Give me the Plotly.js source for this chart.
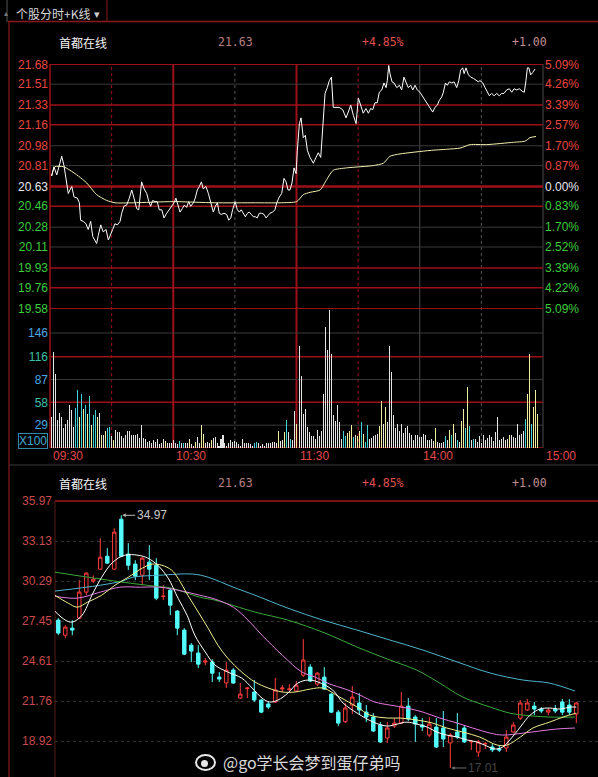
<!DOCTYPE html>
<html><head><meta charset="utf-8">
<script src="https://cdn.plot.ly/plotly-3.0.1.min.js"></script>
<style>html,body{margin:0;padding:0;background:#000;}#chart{width:598px;height:777px;}</style>
</head><body><div id="chart"></div>
<script>
// ===== data =====
const tabTitle = "个股分时+K线";
const stockName = "首都在线";
const lastPrice = "21.63";
const changePct = "+4.85%";
const changeAmt = "+1.00";

const priceTicks = [21.68,21.51,21.33,21.16,20.98,20.81,20.63,20.46,20.28,20.11,19.93,19.76,19.58];
const pctTicks = ["5.09%","4.26%","3.39%","2.57%","1.70%","0.87%","0.00%","0.83%","1.70%","2.52%","3.39%","4.22%","5.09%"];
const volTicks = [29,58,87,116,146];
const timeTicks = [0,60,120,180,240];
const timeLabels = ["09:30","10:30","11:30","14:00","15:00"];

const priceMin = [0.8,1.9,3.3,4.5,5.7,6.8,8.1,8.9,9.7,10.6,11.7,13.3,14.3,14.9,16.2,17.5,18.6,19.8,20.8,21.8,22.7,23.5,24.7,25.9,27.3,28.4,29.6,30.5,31.6,32.8,34.1,34.9,36.0,37.3,38.6,39.8,40.9,42.2,43.2,43.8,44.6,45.8,47.1,48.1,49.0,50.0,51.1,52.2,53.2,54.4,55.5,56.8,58.1,59.2,60.4,61.3,62.3,63.3,64.4,65.4,66.5,67.5,68.5,69.8,70.7,71.7,72.7,73.7,74.6,75.9,77.1,78.2,79.5,80.5,81.5,82.4,83.4,84.7,86.0,87.0,88.0,88.9,90.1,91.2,92.2,93.1,94.1,95.1,96.1,97.0,98.0,99.0,100.0,100.9,101.9,103.1,104.2,105.2,106.1,107.1,108.4,109.5,110.4,111.6,112.8,113.9,114.9,115.9,116.8,117.8,118.8,119.8,120.4,121.4,122.2,123.3,124.3,125.3,126.6,128.2,129.5,130.6,131.8,132.8,133.9,135.0,136.0,137.0,137.9,139.2,140.8,142.5,144.1,145.2,146.4,147.7,149.0,150.1,151.3,152.5,153.8,155.0,156.1,157.1,158.2,159.3,160.3,161.5,162.6,163.6,164.2,164.9,165.5,166.5,167.5,168.8,170.1,171.2,172.3,173.3,174.4,175.6,176.6,177.7,178.8,180.1,181.5,182.7,184.2,185.3,186.3,187.4,188.6,189.5,190.7,191.5,192.5,193.4,194.4,195.6,196.7,198.0,199.0,199.9,200.9,201.6,202.5,203.7,204.8,206.1,207.4,208.5,209.3,210.7,211.8,212.9,213.9,215.0,216.2,217.5,218.7,219.9,221.0,222.3,223.6,224.8,225.9,227.2,228.5,229.8,230.9,231.7,232.4,233.1,234.0,235.0,236.1];
const priceVal = [20.72,20.80,20.73,20.80,20.89,20.81,20.63,20.57,20.60,20.63,20.54,20.53,20.49,20.34,20.33,20.31,20.26,20.33,20.20,20.17,20.14,20.21,20.30,20.24,20.26,20.17,20.23,20.26,20.31,20.30,20.33,20.40,20.46,20.47,20.53,20.60,20.53,20.44,20.43,20.54,20.67,20.61,20.57,20.50,20.46,20.51,20.50,20.50,20.43,20.43,20.36,20.40,20.43,20.46,20.49,20.53,20.46,20.41,20.44,20.47,20.45,20.50,20.46,20.49,20.53,20.60,20.63,20.67,20.61,20.63,20.57,20.49,20.41,20.46,20.49,20.40,20.39,20.40,20.39,20.34,20.36,20.43,20.50,20.43,20.41,20.43,20.40,20.37,20.40,20.41,20.39,20.37,20.37,20.36,20.40,20.40,20.39,20.36,20.38,20.40,20.41,20.43,20.49,20.54,20.57,20.70,20.67,20.60,20.60,20.66,20.79,20.74,20.94,21.17,21.22,21.05,21.07,20.94,20.88,20.83,20.88,20.92,20.88,21.11,21.43,21.48,21.54,21.57,21.31,21.31,21.31,21.29,21.22,21.27,21.33,21.24,21.17,21.39,21.33,21.26,21.30,21.26,21.30,21.29,21.35,21.35,21.44,21.46,21.52,21.48,21.54,21.67,21.60,21.53,21.52,21.48,21.50,21.46,21.57,21.52,21.48,21.50,21.46,21.50,21.46,21.44,21.40,21.37,21.33,21.30,21.27,21.31,21.33,21.37,21.40,21.44,21.52,21.50,21.53,21.52,21.53,21.48,21.54,21.63,21.65,21.60,21.65,21.59,21.57,21.56,21.54,21.53,21.54,21.52,21.48,21.44,21.41,21.43,21.41,21.43,21.41,21.43,21.43,21.46,21.47,21.44,21.47,21.46,21.47,21.45,21.44,21.54,21.65,21.65,21.59,21.61,21.64];

const avgMin = [0.8,2.4,6.5,9.7,13.8,17.9,22.7,27.6,31.6,40.6,60,80,100,112,120.1,123.3,126.6,131.5,134.7,137.9,144.4,157.4,162.3,165.5,170.4,185.0,193.1,199.6,204.5,212.6,225.6,231.3,233.7,236.6];
const avgVal = [20.72,20.80,20.80,20.77,20.72,20.66,20.56,20.51,20.49,20.49,20.50,20.49,20.49,20.49,20.50,20.56,20.58,20.60,20.69,20.77,20.79,20.81,20.83,20.89,20.91,20.94,20.95,20.96,20.99,20.99,21.01,21.02,21.05,21.06];

// volume (x100), morning and afternoon sessions; direction: w=neutral, y=buy, c=sell
const volAM = [40,122,94,35,44,40,26,31,36,55,48,27,51,74,39,69,49,54,43,66,29,42,48,40,44,16,16,22,25,27,15,10,23,20,20,15,13,17,22,22,17,17,16,18,13,29,13,11,8,9,6,10,8,12,5,6,11,9,6,6,6,10,6,5,9,6,6,6,6,11,5,3,8,14,6,29,18,6,8,6,10,13,14,6,3,11,17,6,3,6,10,8,9,8,5,3,11,6,6,6,5,2,6,8,6,3,5,3,6,6,6,8,8,6,22,9,10,20,36,20,12,10,47,30];
const volAMDir = "wwwwwwwwwwww"+"ccycycycyccy"+"wywyccwy"+"wwwwwwwwwwwwwwwwwwwwwwwww"+"y"+"wwwwww"+"cwc"+"ww"+"y"+"ww"+"y"+"ww"+"yy"+"www"+"y"+"wwwwwwwwwwwwwwwwwwwww"+"cc"+"wwwwwwwwww"+"y"+"ww"+"ycwc"+"ww"+"y";
const volPM = [130,92,43,49,27,20,15,15,12,23,15,22,69,154,125,175,119,42,34,54,33,12,22,15,19,22,29,14,16,15,22,33,18,8,29,12,13,15,16,18,28,60,31,52,33,130,96,42,25,31,22,31,19,25,28,19,16,10,16,17,14,14,18,16,10,10,11,9,25,8,6,6,8,15,10,23,16,31,19,10,8,34,49,25,78,28,10,12,11,8,15,6,17,10,13,17,14,9,20,40,10,12,14,10,11,17,17,14,13,30,16,18,22,37,69,119,31,52,74,43];
const volPMDir = "wwwwwwwwwwwwwwwwwwwwww"+"ccyyycwyycycc"+"wwwww"+"yywyw"+"wwwwwwwwwwwwwwwwwwwwwww"+"y"+"wwww"+"cwycywcwyycycwc"+"wwwwwwwwwwwwwwwww"+"y"+"wwwwwww"+"cyycyyy";

// daily K-line
const klineTicks = [35.97,33.13,30.29,27.45,24.61,21.76,18.92];
const kOpen  = [27.52,26.45,26.95,27.66,29.51,30.29,31.14,32.06,31.14,34.69,32.21,31.50,30.71,31.64,31.42,29.19,29.65,28.16,26.81,25.74,25.18,24.54,24.54,23.47,23.05,23.97,21.98,22.65,22.41,21.84,21.56,21.70,22.62,22.59,22.48,23.61,24.18,22.97,23.47,22.26,20.98,20.30,21.48,21.63,20.98,20.63,20.06,19.14,19.99,20.20,21.41,20.63,20.06,19.35,19.92,19.85,18.79,19.57,19.85,18.86,18.14,18.72,18.50,18.36,18.43,19.57,20.56,21.13,21.41,21.20,20.98,21.20,21.70,21.48,20.84];
const kHigh  = [27.66,27.16,27.52,30.36,30.93,30.71,33.34,32.63,34.05,34.97,32.99,31.78,31.99,32.85,31.92,30.00,29.79,28.23,26.95,25.89,25.74,24.82,24.75,23.83,24.54,24.11,23.05,22.76,23.26,21.91,21.70,23.40,22.90,22.97,23.19,26.17,24.39,23.83,24.18,22.33,21.13,21.63,22.83,22.33,21.48,20.91,20.28,20.28,20.56,22.41,21.98,20.77,20.56,20.63,20.56,21.06,19.50,20.91,20.06,19.00,19.00,18.86,18.72,18.64,19.71,20.27,21.84,21.91,21.70,21.34,21.27,21.48,21.91,21.91,21.70];
const kLow   = [26.45,26.24,26.45,27.60,29.29,30.15,31.10,31.50,31.10,32.00,31.07,30.36,30.00,30.36,28.94,28.94,27.87,26.45,25.03,24.54,24.11,24.32,23.12,23.12,22.69,22.98,21.91,21.98,21.70,20.91,21.20,21.63,22.41,22.41,22.41,23.47,23.12,22.83,22.55,20.91,19.99,20.21,20.84,20.84,20.28,19.57,18.79,18.79,19.85,20.13,20.35,18.86,19.64,19.21,18.43,18.50,17.01,19.07,18.79,18.29,17.79,18.36,18.14,18.14,18.14,19.50,20.42,21.06,20.77,20.91,20.77,20.91,20.77,20.77,20.20];
const kClose = [26.60,27.02,26.81,29.51,30.86,30.43,31.99,31.57,33.77,32.06,31.42,30.64,31.92,31.14,29.08,29.22,28.58,26.95,25.10,25.32,24.39,24.61,23.75,23.33,23.97,23.05,22.26,22.69,21.84,20.98,21.34,22.55,22.69,22.62,22.90,24.68,23.19,23.75,22.62,20.98,20.20,21.27,22.05,21.13,20.63,19.64,18.86,19.85,20.20,21.41,20.49,20.13,19.92,20.13,18.50,19.07,19.35,19.21,18.86,18.89,18.86,18.75,18.29,18.29,19.21,20.06,21.63,21.63,21.20,21.06,21.13,21.06,20.98,20.98,21.63];
const highLabel = "34.97";
const lowLabel = "17.01";

// moving averages (x = candle index)
const ma5X = [0.5,2.0,3.0,4.4,5.8,7.2,8.8,10.5,12.4,13.8,15.2,16.7,18.1,19.4,20.5,22.0,23.4,25.2,27.2,28.7,30.1,31.2,32.4,33.8,35.2,36.7,38.1,40.2,41.7,43.7,46.0,48.0,49.4,50.8,52.2,53.7,55.1,56.5,58.0,59.4,60.8,62.2,63.4,64.5,65.5,67.0,68.4,69.8,71.2,72.7,74.1,75.0];
const ma5Y = [28.16,27.52,27.38,27.87,29.29,30.57,31.64,32.13,32.13,31.92,31.42,30.50,29.08,27.87,26.45,25.25,24.32,23.83,23.40,22.69,21.98,21.70,21.84,22.33,23.04,23.26,23.12,22.55,21.62,20.91,20.27,19.99,20.13,20.27,20.13,19.92,19.56,19.35,19.21,19.00,18.86,18.57,18.36,18.50,19.00,19.92,20.77,21.20,21.27,21.20,21.34,21.34];
const ma10X = [0.5,2.4,3.7,5.2,7.2,9.1,11.0,13.0,14.4,15.8,17.2,18.1,19.5,21.0,22.4,23.8,25.2,27.2,29.1,31.0,33.0,34.8,37.0,38.8,41.2,43.7,45.5,48.0,49.8,52.2,54.5,56.5,58.8,61.2,63.7,65.1,67.0,68.8,71.2,73.1,75.0];
const ma10Y = [29.29,28.73,28.44,28.80,29.29,30.00,30.57,31.21,31.50,31.42,31.07,30.50,29.29,28.09,26.95,25.74,24.82,23.83,23.12,22.69,22.41,22.41,22.62,22.69,22.05,21.34,20.77,20.56,20.56,20.42,20.20,19.85,19.56,19.21,18.64,18.64,19.21,19.85,20.27,20.63,20.91];
const ma20X = [0.5,3.7,7.0,9.8,12.7,15.5,18.7,21.2,23.4,26.0,28.1,30.1,33.0,35.8,37.7,39.8,42.0,44.1,46.2,48.4,50.8,53.1,55.5,58.0,60.2,62.7,64.5,67.4,69.8,72.2,74.8];
const ma20Y = [29.22,29.08,29.51,29.86,29.86,29.86,29.58,29.29,29.01,28.44,27.52,26.45,25.03,23.83,23.47,22.97,22.62,22.19,21.70,21.48,21.27,20.98,20.56,20.20,19.85,19.49,19.35,19.49,19.64,19.78,19.85];
const ma60X = [0.5,5.2,10.1,14.8,17.2,21.2,23.4,29.1,33.8,39.1,43.7,48.4,52.2,55.5,58.8,62.7,65.5,67.4,71.2,74.8];
const ma60Y = [30.93,30.57,30.22,29.93,29.79,29.15,28.94,28.09,27.52,26.60,25.60,24.68,23.97,23.04,22.05,21.34,20.91,20.77,20.63,20.63];
const ma120X = [0.5,7.0,10.1,11.7,15.5,20.2,22.4,26.0,29.1,33.8,38.8,43.7,48.4,53.1,58.0,62.7,67.4,71.2,74.8];
const ma120Y = [29.58,30.00,30.29,30.57,30.71,30.79,30.57,29.86,29.29,28.37,27.52,26.81,26.10,25.39,24.54,23.76,23.26,23.04,22.48];

const watermark = "@go学长会梦到蛋仔弟吗";

// ===== drawing =====
const W = 598, H = 777;
const px = v => v / W, py = v => 1 - v / H;
const F = "Liberation Sans, Arial, sans-serif";
const CJK = "Noto Sans CJK SC, sans-serif";
const RED = "#e8463f", GREEN = "#3ccb3c", FLAT = "#e8e8f0";
const GRIDRED = "#9c1018", GRIDGRAY = "#3a3a3a";

const priceTickText = priceTicks.map((v, i) => {
  const c = i < 6 ? RED : (i === 6 ? FLAT : GREEN);
  return '<span style="color:' + c + '">' + v.toFixed(2) + '</span>';
});
const pctTickText = pctTicks.map((t, i) => {
  const c = i < 6 ? RED : (i === 6 ? FLAT : GREEN);
  return '<span style="color:' + c + '">' + t + '</span>';
});
const volTickText = volTicks.map((v, i) => {
  const c = (i % 2 === 0) ? "#4aa6e0" : "#3cc0a8";
  return '<span style="color:' + c + '">' + v + '</span>';
});

const dirColor = {w: "#e4e4e4", y: "#f0ee9c", c: "#3fd3d8"};
const volX = [], volY = [], volC = [];
volAM.forEach((v, i) => { volX.push(0.8 + i * (119.3 / (volAM.length - 1))); volY.push(v); volC.push(dirColor[volAMDir[i]] || "#e4e4e4"); });
volPM.forEach((v, i) => { volX.push(121.4 + i * (115.7 / (volPM.length - 1))); volY.push(v); volC.push(dirColor[volPMDir[i]] || "#e4e4e4"); });

const kIdx = kOpen.map((_, i) => i + 1);

const traces = [
  {type: "scatter", mode: "lines", x: priceMin, y: priceVal, xaxis: "x", yaxis: "y2", line: {width: 0}, opacity: 0, hoverinfo: "skip", showlegend: false},
  {type: "scatter", mode: "lines", x: avgMin, y: avgVal, xaxis: "x", yaxis: "y", line: {color: "#f4efb0", width: 1, shape: "spline", smoothing: 0.6}, hoverinfo: "skip"},
  {type: "scatter", mode: "lines", x: priceMin, y: priceVal, xaxis: "x", yaxis: "y", line: {color: "#ffffff", width: 1}, hoverinfo: "skip"},
  {type: "bar", x: volX, y: volY, xaxis: "x2", yaxis: "y3", width: 0.5, marker: {color: volC, line: {width: 0}}, hoverinfo: "skip"},
  {type: "candlestick", x: kIdx, open: kOpen, high: kHigh, low: kLow, close: kClose, xaxis: "x3", yaxis: "y4",
   increasing: {line: {color: "#ff3c3c", width: 1}, fillcolor: "#000000"},
   decreasing: {line: {color: "#54fcfc", width: 1}, fillcolor: "#54fcfc"},
   whiskerwidth: 0, hoverinfo: "skip"},
  {type: "scatter", mode: "lines", x: ma120X, y: ma120Y, xaxis: "x3", yaxis: "y4", line: {color: "#4fb4cc", width: 1, shape: "spline"}, hoverinfo: "skip"},
  {type: "scatter", mode: "lines", x: ma60X, y: ma60Y, xaxis: "x3", yaxis: "y4", line: {color: "#3aa83a", width: 1, shape: "spline"}, hoverinfo: "skip"},
  {type: "scatter", mode: "lines", x: ma20X, y: ma20Y, xaxis: "x3", yaxis: "y4", line: {color: "#e07ae0", width: 1, shape: "spline"}, hoverinfo: "skip"},
  {type: "scatter", mode: "lines", x: ma10X, y: ma10Y, xaxis: "x3", yaxis: "y4", line: {color: "#f0f090", width: 1, shape: "spline"}, hoverinfo: "skip"},
  {type: "scatter", mode: "lines", x: ma5X, y: ma5Y, xaxis: "x3", yaxis: "y4", line: {color: "#ffffff", width: 1, shape: "spline"}, hoverinfo: "skip"}
];

const shapes = [];
const redPrice = [21.68, 21.33, 21.16, 20.63, 20.46, 19.93, 19.76, 19.58];
priceTicks.forEach(v => {
  const isRed = redPrice.indexOf(v) >= 0;
  shapes.push({type: "line", xref: "x", yref: "y", x0: 0, x1: 240, y0: v, y1: v, layer: "below",
    line: {color: isRed ? GRIDRED : GRIDGRAY, width: (v === 20.63) ? 2.5 : (isRed ? 1.5 : 1)}});
});
[0, 29, 58, 87, 116, 146].forEach(v => {
  const isRed = (v === 0 || v === 58 || v === 116);
  shapes.push({type: "line", xref: "x2", yref: "y3", x0: 0, x1: 240, y0: v, y1: v, layer: "below",
    line: {color: isRed ? GRIDRED : GRIDGRAY, width: isRed ? 1.5 : 1}});
});
const vLines = [[30, GRIDRED, "dot", 1], [60, GRIDRED, "solid", 2], [90, "#555", "dot", 1], [120, GRIDRED, "solid", 2],
                [150, GRIDRED, "dot", 1], [180, "#4a4a4a", "solid", 1], [210, "#555", "dot", 1]];
vLines.forEach(([m, c, d, w]) => shapes.push({type: "line", xref: "x", yref: "paper", x0: m, x1: m, y0: py(448), y1: py(64), layer: "below", line: {color: c, dash: d, width: w}}));
const pl = (x0, y0, x1, y1, c, w) => shapes.push({type: "line", xref: "paper", yref: "paper", x0: px(x0), y0: py(y0), x1: px(x1), y1: py(y1), line: {color: c, width: w || 1}, layer: "below"});
pl(50, 64, 50, 448, GRIDRED, 1.5);
pl(543, 64, 543, 448, "#4a4a4a", 1);
pl(7, 0, 7, 22, "#555", 1);
pl(9, 22, 9, 777, "#6a1414", 1.5);
pl(8, 21.5, 598, 21.5, "#8a1818", 1.5);
pl(107, 0, 107, 22, "#8a1818", 1);
pl(9, 465, 598, 465, "#3c3c3c", 1);
pl(55, 501, 598, 501, "#a01820", 1.5);
pl(55, 501, 55, 777, "#5a1818", 1);
shapes.push({type: "circle", xref: "paper", yref: "paper", x0: px(196), x1: px(215), y0: py(770), y1: py(755), line: {color: "#e8e8e8", width: 2}, layer: "above"});
shapes.push({type: "circle", xref: "paper", yref: "paper", x0: px(201), x1: px(208), y0: py(767), y1: py(760), fillcolor: "#e8e8e8", line: {width: 0}, layer: "above"});

const ann = [];
const A = (x, y, text, size, color, anchor, fam) => ann.push({xref: "paper", yref: "paper", x: px(x), y: py(y), text: text, showarrow: false,
  xanchor: anchor || "left", yanchor: "middle", font: {size: size, color: color, family: fam || F}});
A(2, 13, "▴", 8, "#777");
A(14, 13, tabTitle, 12, "#d8d8d8", "left", CJK);
A(92, 14, "▾", 11, "#cfcfcf");
[[42], [483]].forEach(([yy]) => {
  A(57, yy, stockName, 12, "#f2f2f2", "left", CJK);
  A(216, yy, lastPrice, 11.5, "#b88080", "left", "DejaVu Sans Mono, monospace");
  A(360, yy, changePct, 11.5, "#e05050", "left", "DejaVu Sans Mono, monospace");
  A(510, yy, changeAmt, 11.5, "#c09090", "left", "DejaVu Sans Mono, monospace");
});
timeTicks.forEach((m, i) => ann.push({xref: "x2", yref: "paper", x: m, y: py(456), text: timeLabels[i], showarrow: false,
  xanchor: "left", xshift: 1, yanchor: "middle", font: {size: 12, color: "#e04848", family: F}}));
ann.push({xref: "paper", yref: "paper", x: px(48), y: py(441), text: "X100", showarrow: false, xanchor: "right", yanchor: "middle",
  font: {size: 12, color: "#42a8cc", family: F}, bordercolor: "#2f8aa8", borderwidth: 1, borderpad: 0});
ann.push({xref: "x3", yref: "y4", x: 10, y: kHigh[9], text: highLabel, showarrow: true, ax: 14, ay: 0, xanchor: "left",
  arrowhead: 2, arrowsize: 0.7, arrowwidth: 1, arrowcolor: "#b8b8b8", standoff: 1, font: {size: 12, color: "#c8c8c8", family: F}});
ann.push({xref: "x3", yref: "y4", x: 57, y: 17.01, text: lowLabel, showarrow: true, ax: 16, ay: 0, xanchor: "left",
  arrowhead: 2, arrowsize: 0.7, arrowwidth: 1, arrowcolor: "rgba(200,200,200,0.55)", standoff: 1, font: {size: 12, color: "rgba(200,200,200,0.35)", family: F}});
A(221, 762, watermark, 16, "rgba(240,240,240,0.92)", "left", CJK);

const layout = {
  width: W, height: H, margin: {l: 0, r: 0, t: 0, b: 0},
  paper_bgcolor: "#000", plot_bgcolor: "rgba(0,0,0,0)", showlegend: false,
  font: {family: F, color: "#ccc"}, bargap: 0, boxgap: 0.3,
  xaxis: {domain: [px(50), px(543)], range: [0, 240], anchor: "y", showticklabels: false, showgrid: false, zeroline: false, ticks: "", fixedrange: true},
  yaxis: {domain: [py(309), py(64)], range: [19.577, 21.683], anchor: "x", tickvals: priceTicks, ticktext: priceTickText,
          tickfont: {size: 12, family: F}, showgrid: false, zeroline: false, ticks: "", ticklabelstandoff: 1},
  yaxis2: {overlaying: "y", side: "right", anchor: "x", range: [19.577, 21.683], tickvals: priceTicks, ticktext: pctTickText,
           tickfont: {size: 12, family: F}, showgrid: false, zeroline: false, ticks: "", ticklabelstandoff: 1},
  xaxis2: {domain: [px(50), px(543)], range: [0, 240], anchor: "y3", showticklabels: false, showgrid: false, zeroline: false, ticks: ""},
  yaxis3: {domain: [py(448), py(309)], range: [0, 176.5], anchor: "x2", tickvals: volTicks, ticktext: volTickText,
           tickfont: {size: 12, family: F}, showgrid: false, zeroline: false, ticks: "", ticklabelstandoff: 1},
  xaxis3: {domain: [px(55), 1], range: [0.53, 78.1], anchor: "y4", showticklabels: false, showgrid: false, zeroline: false, ticks: "", rangeslider: {visible: false}},
  yaxis4: {domain: [0, py(501)], range: [16.37, 35.985], anchor: "x3", tickvals: klineTicks, ticktext: klineTicks.map(v => v.toFixed(2)),
           tickfont: {size: 12, family: F, color: "#c84a4a"}, showgrid: true, gridcolor: "#333", griddash: "dot", gridwidth: 1,
           zeroline: false, ticks: "", ticklabelstandoff: 2},
  shapes: shapes, annotations: ann
};
Plotly.newPlot("chart", traces, layout, {staticPlot: true, displayModeBar: false});
</script></body></html>
